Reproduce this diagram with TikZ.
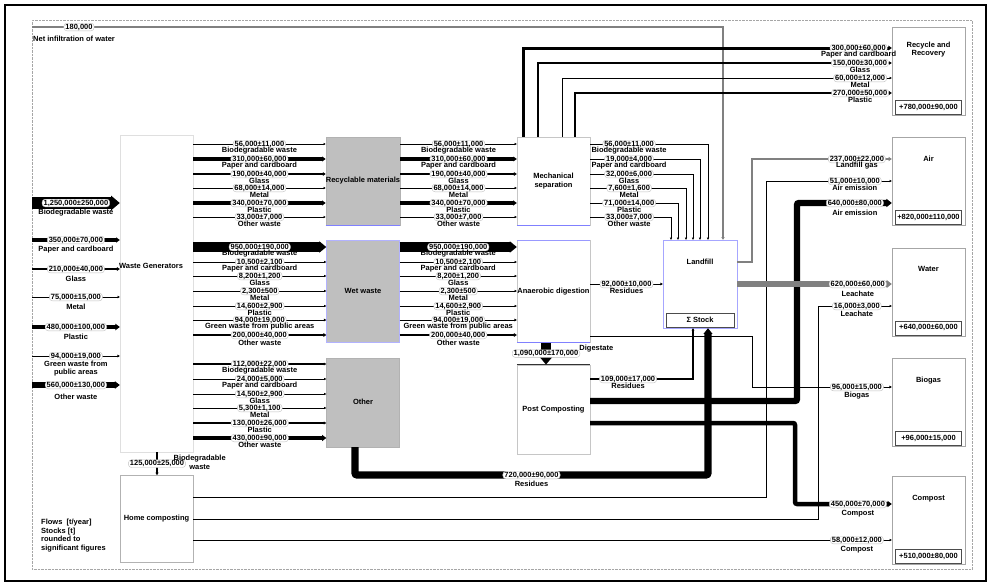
\documentclass[tikz,border=0pt]{standalone}
\usepackage{fontspec}
\setmainfont{Liberation Sans}
\usetikzlibrary{arrows.meta,positioning}

\begin{document}
\begin{tikzpicture}[
    x=1pt, y=-1pt,
    font=\fontsize{7.5}{8.5}\selectfont\bfseries,
    proc/.style={
        draw=gray!45,
        fill=white,
        align=center,
        minimum width=73pt,
        inner sep=0pt
    },
    bin/.style={
        proc,
        draw=gray!60,
        fill=black!25
    },
    sink/.style={
        proc,
        draw=gray!70
    },
    stockbox/.style={
        draw=black!70,
        fill=white,
        minimum width=66pt,
        minimum height=14pt,
        inner sep=0pt
    },
    ptext/.style={align=center, inner sep=0pt},
    val/.style={
        draw=gray!50,
        fill=white,
        line width=0.4pt,
        rounded corners=3pt,
        inner xsep=1.5pt,
        inner ysep=0.6pt
    },
    lbl/.style={align=center, inner sep=0pt, yshift=-7pt},
    inlbl/.style={lbl, yshift=-3pt},
    flow/.style={
        line width=#1,
        -{Triangle[length=1.8pt 0.55, width=1.6pt 1]}
    },
    flow/.default=0.5pt,
    gflow/.style={flow=#1, draw=gray}
]

\useasboundingbox (0,0) rectangle (989,584);
\node[draw, line width=1.5pt, minimum width=981pt, minimum height=576pt, anchor=north west] (frame) at (4,4) {};
\node[draw=gray!70, densely dotted, minimum width=940pt, minimum height=549pt, inner sep=0pt, anchor=north west] (sys) at (32,20) {};

% processes
\node[proc, draw=gray!25, minimum height=317pt] (wg) at (156.5,293.5) {};
\node[ptext] (wgt) at (151,266) {Waste Generators};
\node[proc, draw=gray!60, minimum height=87pt, below=23pt of wg] (hc) {Home composting};

\node[bin, minimum height=88pt] (rm) at (363,181) {Recyclable materials};
\node[bin, draw=blue!30, minimum height=102pt, below=15pt of rm] (ww) {Wet waste};
\node[bin, minimum height=89pt, below=15pt of ww] (ot) {Other};

\node[proc, minimum height=88pt] (ms) at (553.5,181) {Mechanical\\separation};
\node[proc, minimum height=102pt, below=15pt of ms] (ad) {Anaerobic digestion};
\node[proc, minimum height=89pt, below=22pt of ad] (pc) {Post Composting};
\draw[blue!50] (rm.south west) -- (rm.south east);
\draw[blue!50] (ms.south west) -- (ms.south east);
\draw[blue!40] (ad.north west) -- (ad.north east);
\draw[blue!50] (ad.south west) -- (ad.south east);
\draw[black!80] (pc.north west) -- (pc.north east);

\node[proc, draw=blue!35, minimum width=74pt, minimum height=88pt] (lf) at (700,284) {};
\node[ptext, below=19pt of lf.north] (lft) {Landfill};
\node[stockbox, minimum width=68pt, above=1pt of lf.south] (lfs) {Σ Stock};

% sinks
\node[sink, minimum height=88pt] (rr) at (928.5,71) {};
\node[ptext, below=15pt of rr.north] (rrt) {Recycle and\\Recovery};
\node[stockbox, above=1pt of rr.south] (rrs) {+780,000±90,000};
\node[sink, minimum height=88pt, below=22pt of rr] (air) {};
\node[ptext, below=19pt of air.north] (airt) {Air};
\node[stockbox, above=1pt of air.south] (airs) {+820,000±110,000};
\node[sink, minimum height=88pt, below=22pt of air] (wat) {};
\node[ptext, below=19pt of wat.north] (watt) {Water};
\node[stockbox, above=1pt of wat.south] (wats) {+640,000±60,000};
\node[sink, minimum height=88pt, below=22pt of wat] (bg) {};
\node[ptext, below=19pt of bg.north] (bgt) {Biogas};
\node[stockbox, above=1pt of bg.south] (bgs) {+96,000±15,000};
\node[sink, minimum height=88pt, below=30pt of bg] (cp) {};
\node[ptext, below=19pt of cp.north] (cpt) {Compost};
\node[stockbox, above=1pt of cp.south] (cps) {+510,000±80,000};

\node[ptext, anchor=west] (nit) at (33,39) {Net infiltration of water};
\node[anchor=north west, align=left, inner sep=0pt] (legend) at (41,519) {Flows\ \ [t/year]\\Stocks [t]\\rounded to\\significant figures};

% net infiltration
\draw[gflow=1.5pt] (sys.west |- 0,27) -- node[val, pos=0.068]{180,000} (723,27) -- (lf.north -| 723,0);

% inputs
\draw[flow=12.5pt] (sys.west |- 0,203) -- node[val]{1,250,000±250,000} node[inlbl]{Biodegradable waste} (wg.west |- 0,203);
\draw[flow=3.5pt] (sys.west |- 0,240) -- node[val]{350,000±70,000} node[inlbl]{Paper and cardboard} (wg.west |- 0,240);
\draw[flow=2.1pt] (sys.west |- 0,269) -- node[val]{210,000±40,000} node[inlbl]{Glass} (wg.west |- 0,269);
\draw[flow=0.75pt] (sys.west |- 0,297) -- node[val]{75,000±15,000} node[inlbl]{Metal} (wg.west |- 0,297);
\draw[flow=4.8pt] (sys.west |- 0,327) -- node[val]{480,000±100,000} node[inlbl]{Plastic} (wg.west |- 0,327);
\draw[flow=0.94pt] (sys.west |- 0,356) -- node[val]{94,000±19,000} node[inlbl, yshift=-2.5pt]{Green waste from\\public areas} (wg.west |- 0,356);
\draw[flow=5.6pt] (sys.west |- 0,385) -- node[val]{560,000±130,000} node[inlbl, yshift=-2pt]{Other waste} (wg.west |- 0,385);

% waste generators -> collection
\draw[flow=0.56pt] (wg.east |- 0,144) -- node[val]{56,000±11,000} node[lbl]{Biodegradable waste} (rm.west |- 0,144);
\draw[flow=3.1pt] (wg.east |- 0,159) -- node[val]{310,000±60,000} node[lbl]{Paper and cardboard} (rm.west |- 0,159);
\draw[flow=1.9pt] (wg.east |- 0,174) -- node[val]{190,000±40,000} node[lbl]{Glass} (rm.west |- 0,174);
\draw[flow=0.68pt] (wg.east |- 0,188) -- node[val]{68,000±14,000} node[lbl]{Metal} (rm.west |- 0,188);
\draw[flow=3.4pt] (wg.east |- 0,203) -- node[val]{340,000±70,000} node[lbl]{Plastic} (rm.west |- 0,203);
\draw[flow] (wg.east |- 0,217) -- node[val]{33,000±7,000} node[lbl]{Other waste} (rm.west |- 0,217);

\draw[flow=9.5pt] (wg.east |- 0,247) -- node[val]{950,000±190,000} node[lbl]{Biodegradable waste} (ww.west |- 0,247);
\draw[flow] (wg.east |- 0,262) -- node[val]{10,500±2,100} node[lbl]{Paper and cardboard} (ww.west |- 0,262);
\draw[flow] (wg.east |- 0,276) -- node[val]{8,200±1,200} node[lbl]{Glass} (ww.west |- 0,276);
\draw[flow] (wg.east |- 0,291) -- node[val]{2,300±500} node[lbl]{Metal} (ww.west |- 0,291);
\draw[flow] (wg.east |- 0,306) -- node[val]{14,600±2,900} node[lbl]{Plastic} (ww.west |- 0,306);
\draw[flow=0.94pt] (wg.east |- 0,320) -- node[val]{94,000±19,000} node[lbl]{Green waste from public areas} (ww.west |- 0,320);
\draw[flow=2pt] (wg.east |- 0,335) -- node[val]{200,000±40,000} node[lbl, yshift=-1pt]{Other waste} (ww.west |- 0,335);

\draw[flow=1.12pt] (wg.east |- 0,364) -- node[val]{112,000±22,000} node[lbl]{Biodegradable waste} (ot.west |- 0,364);
\draw[flow] (wg.east |- 0,379) -- node[val]{24,000±5,000} node[lbl]{Paper and cardboard} (ot.west |- 0,379);
\draw[flow] (wg.east |- 0,394) -- node[val]{14,500±2,900} node[lbl]{Glass} (ot.west |- 0,394);
\draw[flow] (wg.east |- 0,408) -- node[val]{5,300±1,100} node[lbl]{Metal} (ot.west |- 0,408);
\draw[flow=1.3pt] (wg.east |- 0,423) -- node[val]{130,000±26,000} node[lbl]{Plastic} (ot.west |- 0,423);
\draw[flow=4.3pt] (wg.east |- 0,438) -- node[val]{430,000±90,000} node[lbl]{Other waste} (ot.west |- 0,438);

\draw[flow=1.25pt] (wg.south -| 157,0) -- node[val]{125,000±25,000} node[pos=0.45, right=16pt, ptext]{Biodegradable\\waste} (hc.north -| 157,0);

% collection -> treatment
\draw[flow=0.56pt] (rm.east |- 0,144) -- node[val]{56,000±11,000} node[lbl]{Biodegradable waste} (ms.west |- 0,144);
\draw[flow=3.1pt] (rm.east |- 0,159) -- node[val]{310,000±60,000} node[lbl]{Paper and cardboard} (ms.west |- 0,159);
\draw[flow=1.9pt] (rm.east |- 0,174) -- node[val]{190,000±40,000} node[lbl]{Glass} (ms.west |- 0,174);
\draw[flow=0.68pt] (rm.east |- 0,188) -- node[val]{68,000±14,000} node[lbl]{Metal} (ms.west |- 0,188);
\draw[flow=3.4pt] (rm.east |- 0,203) -- node[val]{340,000±70,000} node[lbl]{Plastic} (ms.west |- 0,203);
\draw[flow] (rm.east |- 0,217) -- node[val]{33,000±7,000} node[lbl]{Other waste} (ms.west |- 0,217);

\draw[flow=9.5pt] (ww.east |- 0,247) -- node[val]{950,000±190,000} node[lbl]{Biodegradable waste} (ad.west |- 0,247);
\draw[flow] (ww.east |- 0,262) -- node[val]{10,500±2,100} node[lbl]{Paper and cardboard} (ad.west |- 0,262);
\draw[flow] (ww.east |- 0,276) -- node[val]{8,200±1,200} node[lbl]{Glass} (ad.west |- 0,276);
\draw[flow] (ww.east |- 0,291) -- node[val]{2,300±500} node[lbl]{Metal} (ad.west |- 0,291);
\draw[flow] (ww.east |- 0,306) -- node[val]{14,600±2,900} node[lbl]{Plastic} (ad.west |- 0,306);
\draw[flow=0.94pt] (ww.east |- 0,320) -- node[val]{94,000±19,000} node[lbl]{Green waste from public areas} (ad.west |- 0,320);
\draw[flow=2pt] (ww.east |- 0,335) -- node[val]{200,000±40,000} node[lbl, yshift=-1pt]{Other waste} (ad.west |- 0,335);

\draw[flow=10.9pt] (ad.south -| 546,0) -- node[val]{1,090,000±170,000} node[pos=0.27, right=28pt, ptext]{Digestate} (pc.north -| 546,0);

% mechanical separation -> recycling
\draw[flow=3pt] (ms.north -| 523,0) |- node[val, pos=0.955]{300,000±60,000} node[lbl, pos=0.955]{Paper and cardboard} (rr.west |- 0,48);
\draw[flow=1.5pt] (ms.north -| 538,0) |- node[val, pos=0.955]{150,000±30,000} node[lbl, pos=0.955]{Glass} (rr.west |- 0,63);
\draw[flow=0.6pt] (ms.north -| 562,0) |- node[val, pos=0.952]{60,000±12,000} node[lbl, pos=0.952]{Metal} (rr.west |- 0,78);
\draw[flow=2.7pt] (ms.north -| 575,0) |- node[val, pos=0.95]{270,000±50,000} node[lbl, pos=0.95]{Plastic} (rr.west |- 0,93);

% -> landfill
\draw[flow=0.56pt] (ms.east |- 0,144) -| node[val, pos=0.165]{56,000±11,000} node[lbl, pos=0.165]{Biodegradable waste} (lf.north -| 708,0);
\draw[flow] (ms.east |- 0,159) -| node[val, pos=0.177]{19,000±4,000} node[lbl, pos=0.177]{Paper and cardboard} (lf.north -| 700,0);
\draw[flow] (ms.east |- 0,174) -| node[val, pos=0.189]{32,000±6,000} node[lbl, pos=0.189]{Glass} (lf.north -| 693,0);
\draw[flow] (ms.east |- 0,188) -| node[val, pos=0.203]{7,600±1,600} node[lbl, pos=0.203]{Metal} (lf.north -| 686,0);
\draw[flow=0.71pt] (ms.east |- 0,203) -| node[val, pos=0.222]{71,000±14,000} node[lbl, pos=0.222]{Plastic} (lf.north -| 678,0);
\draw[flow] (ms.east |- 0,217) -| node[val, pos=0.241]{33,000±7,000} node[lbl, pos=0.241]{Other waste} (lf.north -| 671,0);

\draw[flow=0.92pt] (ad.east |- 0,284) -- node[val]{92,000±10,000} node[lbl]{Residues} (lf.west |- 0,284);
\draw[flow=1.09pt] (pc.east |- 0,379) -| node[val, pos=0.184]{109,000±17,000} node[lbl, pos=0.184]{Residues} (lf.south -| 693,0);
\draw[flow=7.2pt, rounded corners=2pt] (ot.south -| 355,0) |- node[val, pos=0.75]{720,000±90,000} node[lbl, pos=0.75, yshift=-2pt]{Residues} (708,475) -- (lf.south -| 708,0);

% -> sinks
\draw[gflow=2.4pt] (lf.east |- 0,262) -- (752,262) |- node[val, pos=0.875]{237,000±22,000} node[lbl, pos=0.875]{Landfill gas} (air.west |- 0,159);
\draw[flow=0.51pt] (hc.east |- 0,497) -- (766,497) |- node[val, pos=0.853]{51,000±10,000} node[lbl, pos=0.853]{Air emission} (air.west |- 0,181);
\draw[flow=6.4pt, rounded corners=2pt] (pc.east |- 0,401) -- (797,401) |- node[val, pos=0.805]{640,000±80,000} node[lbl, pos=0.805, yshift=-3pt]{Air emission} (air.west |- 0,203);
\draw[gflow=6.2pt] (lf.east |- 0,284) -- node[val, pos=0.78]{620,000±60,000} node[lbl, pos=0.78, yshift=-3pt]{Leachate} (wat.west |- 0,284);
\draw[flow] (hc.east |- 0,519) -- (818,519) |- node[val, pos=0.763]{16,000±3,000} node[lbl, pos=0.763, yshift=-1pt]{Leachate} (wat.west |- 0,306);
\draw[flow=0.96pt] (ad.east |- 0,336) -- (752,336) |- node[val, pos=0.875]{96,000±15,000} node[lbl, pos=0.875, yshift=-2pt]{Biogas} (bg.west |- 0,387);
\draw[flow=4.5pt, rounded corners=2pt] (pc.east |- 0,423) -- (795,423) |- node[val, pos=0.825]{450,000±70,000} node[lbl, pos=0.825, yshift=-3pt]{Compost} (cp.west |- 0,504);
\draw[flow=0.58pt] (hc.east |- 0,540) -- node[val, pos=0.95]{58,000±12,000} node[lbl, pos=0.95, yshift=-3pt]{Compost} (cp.west |- 0,540);

\end{tikzpicture}
\end{document}
